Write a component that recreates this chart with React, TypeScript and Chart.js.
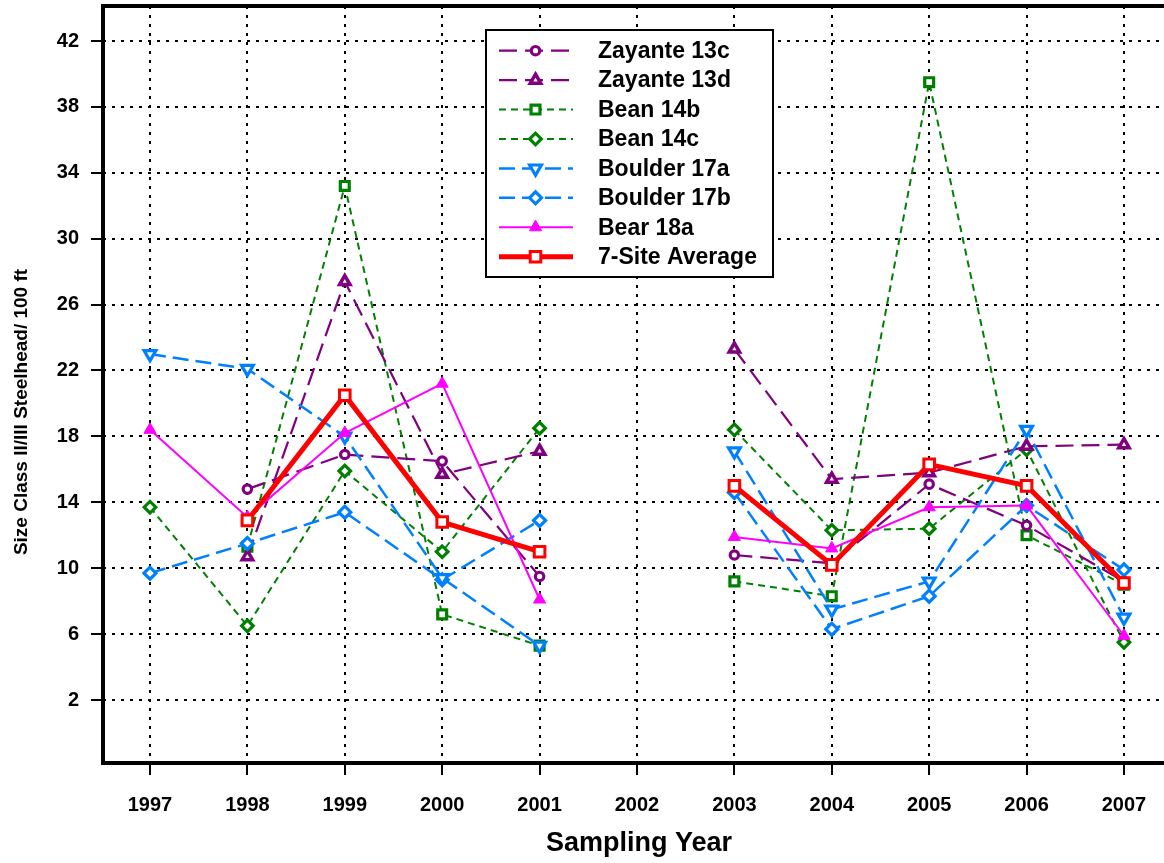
import React, { useEffect, useRef } from 'react';
import { Chart, registerables } from 'chart.js';

Chart.register(...registerables);

const years = [1997, 1998, 1999, 2000, 2001, 2002, 2003, 2004, 2005, 2006, 2007];
const yTickValues = [2, 6, 10, 14, 18, 22, 26, 30, 34, 38, 42];

const zayante13c = [null, 14.8, 16.9, 16.5, 9.5, null, 10.8, 10.3, 15.1, 12.6, 9.2];
const zayante13d = [null, 10.7, 27.4, 15.7, 17.1, null, 23.3, 15.4, 15.8, 17.4, 17.5];
const bean14b = [null, 11.3, 33.2, 7.2, 5.3, null, 9.2, 8.3, 39.5, 12.0, 9.0];
const bean14c = [13.7, 6.5, 15.9, 11.0, 18.5, null, 18.4, 12.3, 12.4, 17.2, 5.5];
const boulder17a = [23.0, 22.1, 18.0, 9.4, 5.3, null, 17.1, 7.5, 9.2, 18.4, 7.0];
const boulder17b = [9.7, 11.5, 13.4, 9.3, 12.9, null, 14.6, 6.3, 8.3, 13.8, 9.9];
const bear18a = [18.4, 13.1, 18.2, 21.2, 8.1, null, 11.9, 11.2, 13.7, 13.8, 5.9];
const siteAverage = [null, 12.9, 20.5, 12.8, 11.0, null, 15.0, 10.2, 16.3, 15.0, 9.1];

const yTitle = 'Size Class II/III Steelhead/ 100 ft';
const xTitle = 'Sampling Year';

const PURPLE = '#800080';
const GREEN = '#008000';
const BLUE = '#0080FF';
const MAGENTA = '#FF00FF';
const RED = '#FF0000';
const FONT = "'Liberation Sans', Arial, sans-serif";

const toPoints = (arr: (number | null)[]) => years.map((x, i) => ({ x, y: arr[i] }));

function drawMarker(ctx: CanvasRenderingContext2D, style: string, x: number, y: number, r: number, rot: number) {
  ctx.beginPath();
  if (style === 'circle') {
    ctx.arc(x, y, r, 0, Math.PI * 2);
  } else if (style === 'triangle') {
    const base = (rot * Math.PI) / 180 - Math.PI / 2;
    for (let k = 0; k < 3; k++) {
      const a = base + (k * 2 * Math.PI) / 3;
      const px = x + Math.cos(a) * r;
      const py = y + Math.sin(a) * r;
      if (k === 0) ctx.moveTo(px, py);
      else ctx.lineTo(px, py);
    }
    ctx.closePath();
  } else if (style === 'rect') {
    const s = r * Math.SQRT1_2;
    ctx.rect(x - s, y - s, 2 * s, 2 * s);
  } else if (style === 'rectRot') {
    ctx.moveTo(x - r, y);
    ctx.lineTo(x, y - r);
    ctx.lineTo(x + r, y);
    ctx.lineTo(x, y + r);
    ctx.closePath();
  }
  ctx.fill();
  ctx.stroke();
}

const framePlugin = {
  id: 'frame',
  afterDatasetsDraw(chart: any) {
    const { ctx, chartArea } = chart;
    ctx.save();
    ctx.strokeStyle = '#000';
    ctx.lineWidth = 4;
    ctx.beginPath();
    ctx.moveTo(chartArea.right + 20, chartArea.top);
    ctx.lineTo(chartArea.left, chartArea.top);
    ctx.lineTo(chartArea.left, chartArea.bottom);
    ctx.lineTo(chartArea.right + 20, chartArea.bottom);
    ctx.stroke();
    // y-axis title
    ctx.translate(22, 412);
    ctx.rotate(-Math.PI / 2);
    ctx.fillStyle = '#000';
    ctx.font = `bold 19px ${FONT}`;
    ctx.textAlign = 'center';
    ctx.textBaseline = 'middle';
    ctx.fillText(yTitle, 0, 0);
    ctx.restore();
  },
};

const legendPlugin = {
  id: 'boxLegend',
  afterDraw(chart: any) {
    const ctx: CanvasRenderingContext2D = chart.ctx;
    const x0 = 486, y0 = 30, w = 287, h = 247;
    ctx.save();
    ctx.fillStyle = '#fff';
    ctx.fillRect(x0, y0, w, h);
    ctx.lineWidth = 2;
    ctx.strokeStyle = '#000';
    ctx.strokeRect(x0, y0, w, h);
    chart.data.datasets.forEach((ds: any, i: number) => {
      const cy = 50.7 + i * 29.43;
      ctx.save();
      ctx.strokeStyle = ds.borderColor;
      ctx.lineWidth = ds.borderWidth;
      ctx.setLineDash(ds.borderDash || []);
      ctx.beginPath();
      ctx.moveTo(499, cy);
      ctx.lineTo(573, cy);
      ctx.stroke();
      ctx.setLineDash([]);
      ctx.lineWidth = ds.pointBorderWidth;
      ctx.strokeStyle = ds.pointBorderColor;
      ctx.fillStyle = ds.pointBackgroundColor;
      drawMarker(ctx, ds.pointStyle, 535.5, cy, ds.pointRadius, ds.pointRotation || 0);
      ctx.restore();
      ctx.fillStyle = '#000';
      ctx.font = `bold 23px ${FONT}`;
      ctx.textBaseline = 'middle';
      ctx.textAlign = 'left';
      ctx.fillText(ds.label, 598, cy + 1);
    });
    ctx.restore();
  },
};

export default function App() {
  const canvasRef = useRef<HTMLCanvasElement | null>(null);

  useEffect(() => {
    const canvas = canvasRef.current;
    if (!canvas) return;
    const mk = (label: string, arr: (number | null)[], color: string, dash: number[], width: number,
      pointStyle: string, radius: number, pbw: number, fill: string, order: number, rotation = 0) => ({
      label,
      data: toPoints(arr),
      borderColor: color,
      backgroundColor: color,
      borderWidth: width,
      borderDash: dash,
      pointStyle,
      pointRadius: radius,
      pointBorderWidth: pbw,
      pointBorderColor: color,
      pointBackgroundColor: fill,
      pointRotation: rotation,
      spanGaps: false,
      tension: 0,
      order,
    });
    const chart = new Chart(canvas, {
      type: 'line',
      data: {
        datasets: [
          mk('Zayante 13c', zayante13c, PURPLE, [18, 8], 2.2, 'circle', 4.2, 3.2, '#fff', 3),
          mk('Zayante 13d', zayante13d, PURPLE, [18, 8], 2.2, 'triangle', 6, 3.5, '#fff', 3),
          mk('Bean 14b', bean14b, GREEN, [7, 5], 2, 'rect', 6.3, 3.2, '#fff', 3),
          mk('Bean 14c', bean14c, GREEN, [7, 5], 2, 'rectRot', 5.8, 3.2, '#fff', 3),
          mk('Boulder 17a', boulder17a, BLUE, [16, 7], 2.5, 'triangle', 6.8, 3.2, '#fff', 2, 180),
          mk('Boulder 17b', boulder17b, BLUE, [16, 7], 2.5, 'rectRot', 6, 3.2, '#fff', 2),
          mk('Bear 18a', bear18a, MAGENTA, [], 2, 'triangle', 7, 1, MAGENTA, 1),
          mk('7-Site Average', siteAverage, RED, [], 5, 'rect', 7.5, 3, '#fff', 0),
        ] as any,
      },
      options: {
        responsive: false,
        devicePixelRatio: 1,
        animation: false,
        layout: { autoPadding: false, padding: { top: 6, right: 15, left: 0, bottom: 0 } },
        plugins: {
          legend: { display: false },
          tooltip: { enabled: false },
        },
        scales: {
          x: {
            type: 'linear',
            min: 1996.5175,
            max: 2007.524,
            afterBuildTicks: (scale: any) => {
              scale.ticks = years.map((v) => ({ value: v }));
            },
            afterFit: (scale: any) => {
              scale.height = 100;
              scale.paddingLeft = 0;
              scale.paddingRight = 0;
            },
            ticks: {
              color: '#000',
              font: { family: FONT, size: 20, weight: 'bold' },
              padding: 18,
              maxRotation: 0,
              autoSkip: false,
              callback: (v: any) => String(v),
            },
            grid: {
              color: '#000',
              lineWidth: 2,
              tickLength: 12,
              tickWidth: 2,
              tickColor: '#000',
              tickBorderDash: [],
            },
            border: { display: false, dash: [3, 6] },
            title: {
              display: true,
              text: xTitle,
              color: '#000',
              font: { family: FONT, size: 27, weight: 'bold' },
              padding: { top: 0, bottom: 3 },
            },
          },
          y: {
            type: 'linear',
            min: -1.824,
            max: 44.124,
            afterBuildTicks: (scale: any) => {
              scale.ticks = yTickValues.map((v) => ({ value: v }));
            },
            afterFit: (scale: any) => {
              scale.width = 103;
              scale.paddingTop = 0;
              scale.paddingBottom = 0;
            },
            ticks: {
              color: '#000',
              font: { family: FONT, size: 20, weight: 'bold' },
              padding: 12,
              callback: (v: any) => String(v),
            },
            grid: {
              color: '#000',
              lineWidth: 2,
              tickLength: 12,
              tickWidth: 2,
              tickColor: '#000',
              tickBorderDash: [],
            },
            border: { display: false, dash: [3, 6] },
            title: { display: false },
          },
        },
      } as any,
      plugins: [framePlugin, legendPlugin],
    });
    return () => chart.destroy();
  }, []);

  return (
    <div style={{ position: 'fixed', left: 0, top: 0, width: 1164, height: 863, overflow: 'hidden', background: '#fff' }}>
      <canvas ref={canvasRef} width={1190} height={863} style={{ display: 'block' }} />
    </div>
  );
}
